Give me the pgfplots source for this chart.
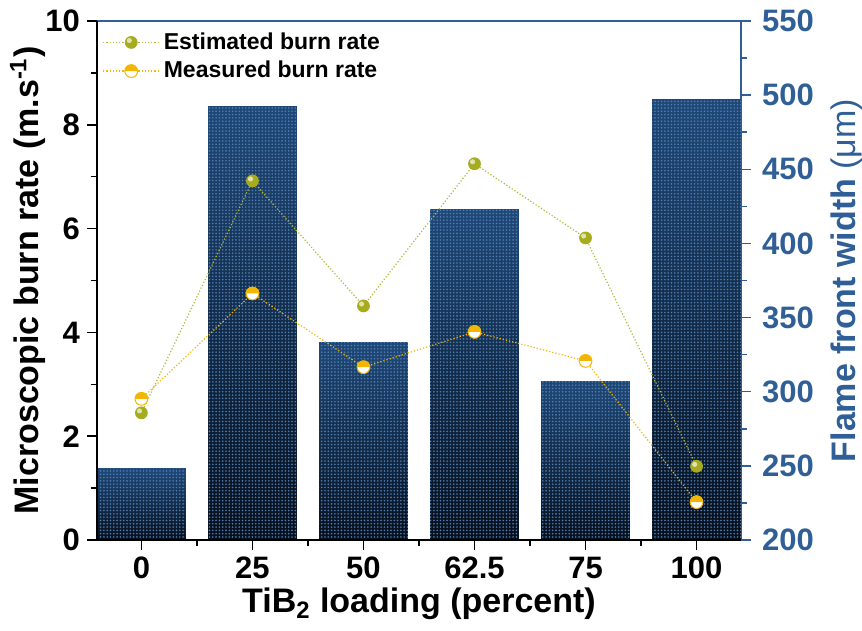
\documentclass[border=0pt]{standalone}
\usepackage{pgfplots}
\pgfplotsset{compat=1.18}
\usepackage{fontspec}
\setmainfont{Liberation Sans}
\usetikzlibrary{patterns}
\definecolor{rblue}{HTML}{2F5F96}
\definecolor{estc}{HTML}{A6AC1E}
\definecolor{estl}{HTML}{B4B83A}
\definecolor{measc}{HTML}{F2B705}
\definecolor{bartop}{HTML}{1F4877}
\definecolor{barbot}{HTML}{070F1C}
\definecolor{dotc}{HTML}{4F7EB2}
\pgfdeclarepatternformonly{tinydots}{\pgfqpoint{-0.2pt}{-0.2pt}}{\pgfqpoint{1.85pt}{1.85pt}}{\pgfqpoint{1.65pt}{1.65pt}}{%
  \pgfpathcircle{\pgfqpoint{0.8pt}{0.8pt}}{0.45pt}\pgfusepath{fill}}
\pgfdeclareplotmark{halfball}{%
  \pgfpathcircle{\pgfpointorigin}{\pgfplotmarksize}%
  \pgfsetfillcolor{white}\pgfusepathqfill
  \pgfpathmoveto{\pgfqpoint{\pgfplotmarksize}{0pt}}%
  \pgfpatharc{0}{180}{\pgfplotmarksize}%
  \pgfpathclose
  \pgfsetfillcolor{measc}\pgfusepathqfill
  \pgfpathcircle{\pgfpointorigin}{\pgfplotmarksize}%
  \pgfusepathqstroke
}
\pgfdeclareplotmark{glossball}{%
  \pgfpathcircle{\pgfpointorigin}{\pgfplotmarksize}%
  \pgfsetfillcolor{estc}\pgfusepathqfill
  \pgfpathcircle{\pgfpoint{-0.3\pgfplotmarksize}{0.3\pgfplotmarksize}}{0.4\pgfplotmarksize}%
  \pgfsetfillcolor{estc!35!white}\pgfusepathqfill
}
\pgfplotsset{
  barsty/.style={draw=none, pattern=tinydots, pattern color=dotc,
    preaction={top color=bartop, bottom color=barbot}},
}
\begin{document}
\begin{tikzpicture}
\useasboundingbox (-48.5pt,-45.5pt) rectangle (382.5pt,270pt);
% right axis with bars
\begin{axis}[
  at={(0,0)}, anchor=south west, scale only axis, width=322pt, height=259.5pt,
  xmin=-0.4, xmax=5.4, ymin=200, ymax=550,
  axis x line*=top, axis y line*=right,
  axis line style={-, rblue, line width=0.75pt},
  xtick=\empty, ytick={200,250,...,550}, minor y tick num=1,
  tick align=outside, major tick length=5pt, minor tick length=3pt,
  y tick style={rblue, line width=0.75pt},
  yticklabel style={rblue, font=\bfseries\fontsize{15.5}{15.5}\selectfont, xshift=2pt},
  /pgf/number format/assume math mode=true,
  ylabel={Flame front width {\mdseries(μm)}},
  every axis y label/.style={at={(axis description cs:1,0.5)}, xshift=53pt, rotate=90, anchor=center,
    rblue, font=\bfseries\fontsize{17}{17}\selectfont},
]
\addplot[barsty] coordinates {(-0.4,200) (-0.4,248) (0.4,248) (0.4,200)};
\addplot[barsty] coordinates {(0.6,200) (0.6,492) (1.4,492) (1.4,200)};
\addplot[barsty] coordinates {(1.6,200) (1.6,333) (2.4,333) (2.4,200)};
\addplot[barsty] coordinates {(2.6,200) (2.6,423) (3.4,423) (3.4,200)};
\addplot[barsty] coordinates {(3.6,200) (3.6,307) (4.4,307) (4.4,200)};
\addplot[barsty] coordinates {(4.6,200) (4.6,497) (5.4,497) (5.4,200)};
\end{axis}
% left axis with lines
\begin{axis}[
  at={(0,0)}, anchor=south west, scale only axis, width=322pt, height=259.5pt,
  xmin=-0.4, xmax=5.4, ymin=0, ymax=10,
  axis x line*=bottom, axis y line*=left,
  axis line style={-, black, line width=0.75pt},
  xtick={0,1,2,3,4,5}, xticklabels={0,25,50,62.5,75,100},
  minor x tick num=1,
  ytick={0,2,4,6,8,10}, minor y tick num=1,
  tick align=outside, major tick length=5pt, minor tick length=3pt,
  tick style={black, line width=0.75pt},
  ticklabel style={font=\bfseries\fontsize{15.5}{15.5}\selectfont},
  /pgf/number format/assume math mode=true,
  xlabel={TiB\textsubscript{2} loading (percent)},
  ylabel={Microscopic burn rate (m.s\textsuperscript{-1})},
  every axis y label/.style={at={(axis description cs:0,0.5)}, xshift=-34.5pt, rotate=90, anchor=center,
    font=\bfseries\fontsize{17}{17}\selectfont},
  every axis x label/.style={at={(axis description cs:0.5,0)}, yshift=-36.5pt, anchor=base,
    font=\bfseries\fontsize{17}{17}\selectfont},
  legend style={draw=none, fill=none, at={(0.005,0.99)}, anchor=north west,
    font=\bfseries\fontsize{11.5}{13}\selectfont, row sep=0.5pt, inner sep=1pt},
  legend cell align=left,
  legend image code/.code={\draw[mark repeat=2, mark phase=2, #1] plot coordinates {(0pt,0pt) (14pt,0pt) (28pt,0pt)};},
]
\addplot[estl, densely dotted, line width=0.6pt, mark=glossball, mark size=3.2pt,
  mark options={solid}]
  coordinates {(0,2.45) (1,6.92) (2,4.51) (3,7.25) (4,5.82) (5,1.42)};
\addlegendentry{Estimated burn rate}
\addplot[measc, densely dotted, line width=0.6pt, mark=halfball, mark size=3.2pt,
  mark options={solid, draw=measc, line width=0.5pt}]
  coordinates {(0,2.72) (1,4.75) (2,3.33) (3,4.01) (4,3.45) (5,0.73)};
\addlegendentry{Measured burn rate}
\end{axis}
\end{tikzpicture}
\end{document}
